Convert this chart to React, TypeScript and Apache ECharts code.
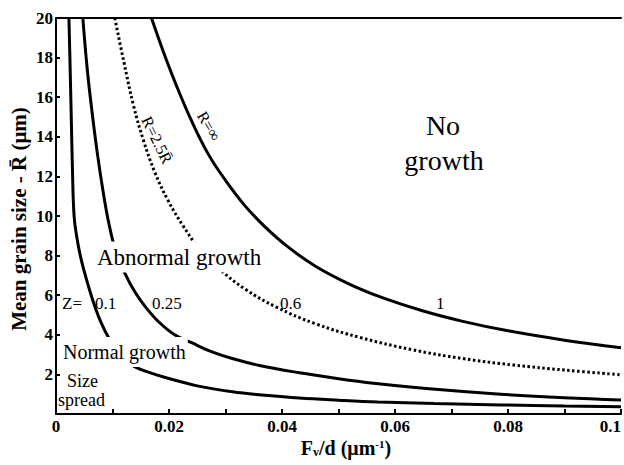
import React, { useEffect, useRef } from "react";
import * as echarts from "echarts";

// Z = 1 (R = infinity) curve, [Fv/d, R]
const zeta1: number[][] = [
  [0.0169, 20], [0.019, 18.3], [0.0213, 16.6], [0.024, 14.8], [0.027, 13.1],
  [0.03, 11.8], [0.0335, 10.5], [0.037, 9.45], [0.041, 8.45], [0.046, 7.45],
  [0.052, 6.55], [0.058, 5.85], [0.065, 5.2], [0.072, 4.68], [0.08, 4.2],
  [0.09, 3.73], [0.1, 3.35],
];
// Z = 0.6 (R = 2.5 Rbar), dotted
const zeta06: number[][] = [
  [0.0104, 20], [0.012, 17.8], [0.0137, 15.6], [0.0155, 13.8], [0.0175, 12.2],
  [0.0198, 10.8], [0.0225, 9.5], [0.0255, 8.3], [0.029, 7.3], [0.0335, 6.3],
  [0.039, 5.4], [0.046, 4.55], [0.054, 3.85], [0.063, 3.25], [0.072, 2.8],
  [0.081, 2.47], [0.09, 2.22], [0.1, 1.98],
];
// Z = 0.25
const zeta025: number[][] = [
  [0.00475, 20], [0.0055, 17.5], [0.0064, 15.2], [0.0073, 13.2], [0.0083, 11.3],
  [0.0093, 9.7], [0.0105, 8.3], [0.0122, 7.1], [0.014, 6.15], [0.016, 5.35],
  [0.0183, 4.62], [0.021, 4.0], [0.024, 3.6], [0.0275, 3.15], [0.0312, 2.8],
  [0.036, 2.45], [0.0431, 2.08], [0.05, 1.78], [0.0562, 1.55], [0.065, 1.3],
  [0.0787, 1.0], [0.09, 0.82], [0.1, 0.71],
];
// Z = 0.1
const zeta01: number[][] = [
  [0.00229, 20], [0.0025, 17.5], [0.0027, 15], [0.0029, 12.5], [0.0032, 10],
  [0.0037, 8.9], [0.0043, 8.0], [0.005, 7.2], [0.0058, 6.4], [0.0068, 5.5],
  [0.008, 4.6], [0.0095, 3.76], [0.0115, 2.9], [0.0139, 2.39], [0.017, 2.05],
  [0.0195, 1.83], [0.025, 1.42], [0.0312, 1.12], [0.037, 0.95], [0.043, 0.81],
  [0.05, 0.7], [0.057, 0.61], [0.067, 0.53], [0.0787, 0.46], [0.09, 0.4], [0.1, 0.36],
];

const xTicks = [0, 0.02, 0.04, 0.06, 0.08, 0.1];
const yTicks = [2, 4, 6, 8, 10, 12, 14, 16, 18, 20];

const SERIF = '"Liberation Serif", "Times New Roman", serif';

function txt(text: string, x: number, y: number, size: number, extra: any = {}) {
  return {
    type: "text",
    x,
    y,
    z: 100,
    rotation: extra.rotation || 0,
    style: {
      text,
      fontFamily: SERIF,
      fontSize: size,
      fontWeight: extra.weight || "normal",
      fill: "#000",
      align: extra.align || "left",
      verticalAlign: "middle",
      backgroundColor: extra.bg,
      padding: extra.padding,
    },
  };
}

export default function App() {
  const ref = useRef<HTMLDivElement>(null);
  useEffect(() => {
    document.body.style.margin = "0";
    const chart = echarts.init(ref.current!, null, { renderer: "svg" });
    const lineSeries = (name: string, data: number[][], dotted = false) => ({
      name,
      type: "line",
      data,
      smooth: 0.4,
      showSymbol: false,
      symbol: "none",
      clip: true,
      lineStyle: { color: "#000", width: 3, type: dotted ? [2.5, 2.5] : "solid" },
      z: 3,
    });
    chart.setOption({
      animation: false,
      backgroundColor: "#fff",
      grid: { left: 56, top: 18, right: 0, bottom: 51, containLabel: false },
      xAxis: [
        {
          type: "value",
          min: xTicks[0],
          max: xTicks[xTicks.length - 1],
          interval: 0.02,
          axisLine: { show: true, lineStyle: { color: "#000", width: 2 } },
          axisTick: { show: true, inside: true, length: 5, lineStyle: { color: "#000", width: 2 } },
          minorTick: { show: true, splitNumber: 2, length: 5, lineStyle: { color: "#000", width: 2 } },
          splitLine: { show: false },
          axisLabel: {
            color: "#000",
            fontFamily: SERIF,
            fontWeight: "bold",
            fontSize: 17,
            margin: 4,
            alignMaxLabel: "right",
            formatter: (v: number) => String(parseFloat(v.toFixed(2))),
          },
        },
        {
          type: "value",
          position: "top",
          min: 0,
          max: 0.1,
          axisLine: { show: true, lineStyle: { color: "#000", width: 2 } },
          axisTick: { show: false },
          axisLabel: { show: false },
          splitLine: { show: false },
        },
      ],
      yAxis: {
        type: "value",
        min: 0,
        max: yTicks[yTicks.length - 1],
        interval: 2,
        axisLine: { show: true, lineStyle: { color: "#000", width: 2 } },
        axisTick: { show: true, inside: true, length: 4, lineStyle: { color: "#000", width: 2 } },
        splitLine: { show: false },
        axisLabel: {
          color: "#000",
          fontFamily: SERIF,
          fontWeight: "bold",
          fontSize: 17,
          margin: 3,
          formatter: (v: number) => (v === 0 ? "" : String(v)),
        },
      },
      series: [
        lineSeries("Z=1", zeta1),
        lineSeries("Z=0.6", zeta06, true),
        lineSeries("Z=0.25", zeta025),
        lineSeries("Z=0.1", zeta01),
      ],
      graphic: [
        txt("No", 443, 125, 28, { align: "center" }),
        txt("growth", 444, 160, 28, { align: "center" }),
        txt("Abnormal growth", 95, 257, 23, { bg: "#fff", padding: [4, 2] }),
        txt("Normal growth", 61, 352, 20, { bg: "#fff", padding: [5, 2] }),
        txt("Size", 67, 381, 18),
        txt("spread", 58, 400, 18),
        txt("Z=", 62, 303, 17),
        txt("0.1", 95, 303, 17),
        txt("0.25", 152, 303, 17),
        txt("0.6", 280, 303, 17),
        txt("1", 436, 303, 17),
        txt("R=∞", 209, 126, 16, { align: "center", rotation: -1.04 }),
        txt("R=2.5R̄", 157, 140, 16, { align: "center", rotation: -1.115 }),
        txt("Mean grain size - R̄ (μm)", 19, 219, 21, {
          align: "center",
          rotation: Math.PI / 2,
          weight: "bold",
        }),
        {
          type: "text",
          x: 346,
          y: 448,
          z: 100,
          style: {
            text: "F{sub|v}/d (μm{sup|-1})",
            fontFamily: SERIF,
            fontSize: 20,
            fontWeight: "bold",
            fill: "#000",
            align: "center",
            verticalAlign: "middle",
            rich: {
              sub: { fontFamily: SERIF, fontSize: 12, fontWeight: "bold", verticalAlign: "bottom", fill: "#000" },
              sup: { fontFamily: SERIF, fontSize: 11, fontWeight: "bold", verticalAlign: "top", fill: "#000" },
            },
          },
        },
      ],
    });
    return () => chart.dispose();
  }, []);
  return <div ref={ref} style={{ width: 624, height: 465 }} />;
}
